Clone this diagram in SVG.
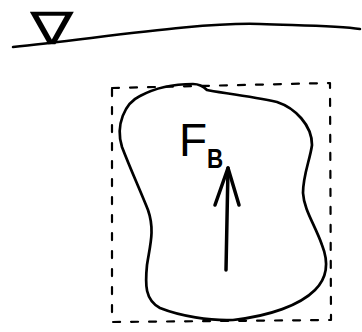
<svg xmlns="http://www.w3.org/2000/svg" width="362" height="332" viewBox="0 0 362 332">
<style>
.ink{fill:none;stroke:#000;stroke-linecap:round;stroke-linejoin:round}
.t{font-family:"Liberation Sans","DejaVu Sans",sans-serif;fill:#000}
</style>
<rect width="362" height="332" fill="#fff"/>
<g id="surface">
<text class="t" x="0" y="0" font-size="45" transform="translate(30,44) scale(1.45,1)" font-family="DejaVu Sans">∇</text>
<path class="ink" stroke-width="2.5" d="M13,47 C100,38 200,22 260,24 S340,26 360,29"/>
</g>
<g id="control-volume">
<path class="ink" stroke-width="2.2" stroke-dasharray="7 11" d="M112,88 L330,83 L331,320 L112,322 Z"/>
</g>
<g id="body">
<path class="ink" stroke-width="2.7" d="M122,147 C115,125 125,103 140,96 C155,88 175,84 193,84 C200,84 205,88 207,90 C215,92 250,96 277,102 C295,108 312,125 312,145 C310,160 303,175 303,193 C304,210 315,225 322,245 C330,265 325,280 315,290 C300,305 270,316 233,320 C210,321 180,316 160,308 C145,300 145,285 147,265 C150,245 155,230 148,210 C140,190 130,168 122,147 Z"/>
</g>
<g id="force">
<text class="t" x="179" y="156" font-size="46">F</text>
<text class="t" x="0" y="0" font-size="28" font-weight="bold" transform="translate(207,168) scale(0.8,1)">B</text>
</g>
<g id="connectors">
<path class="ink" stroke-width="3.5" d="M226,270 L228,168"/>
<path class="ink" stroke-width="3.5" d="M215,205 L228,168 L239,205"/>
</g>
</svg>
